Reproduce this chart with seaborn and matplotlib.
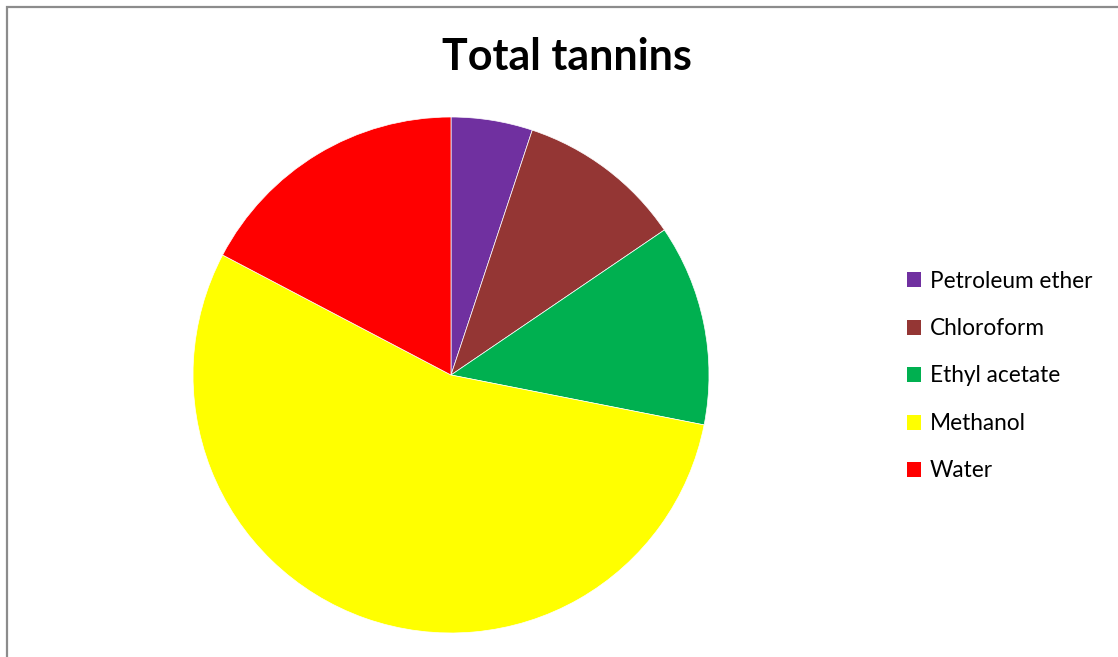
import matplotlib
matplotlib.use("Agg")
import matplotlib.pyplot as plt
import matplotlib.patches as mpatches
import seaborn as sns

categories = ["Petroleum ether", "Chloroform", "Ethyl acetate", "Methanol", "Water"]
values = [5.1, 10.4, 12.6, 54.6, 17.3]
colors = ["#7030A0", "#943634", "#00B050", "#FFFF00", "#FF0000"]
title = "Total tannins"

sns.set_theme(style="white")
plt.rcParams["font.family"] = ["Lato", "DejaVu Sans"]

W, H = 1118, 657
fig = plt.figure(figsize=(W / 100, H / 100), dpi=100)
fig.patch.set_facecolor("white")

# chart border
fig.patches.append(mpatches.Rectangle((7 / W, -0.1), 1.2, (H - 7) / H + 0.1,
                                      transform=fig.transFigure, fill=False,
                                      edgecolor="#8c8c8c", linewidth=1.6))

cx, cy, r = 451, 375, 258
ax = fig.add_axes([(cx - r) / W, (H - cy - r) / H, 2 * r / W, 2 * r / H])
wedges, _ = ax.pie(values, colors=colors, startangle=90, counterclock=False,
                   radius=1.0, wedgeprops=dict(linewidth=0.5, edgecolor="white"))
ax.set_xlim(-1, 1)
ax.set_ylim(-1, 1)
ax.set_aspect("equal")
ax.axis("off")

fig.text(567 / W, 1 - 57 / H, title, ha="center", va="center",
         fontsize=31, fontweight="bold", color="black")

handles = [mpatches.Patch(facecolor=c, edgecolor="none") for c in colors]
leg = fig.legend(handles, categories, loc="center left",
                 bbox_to_anchor=(907 / W, 1 - 376 / H),
                 frameon=False, fontsize=16.3, handlelength=0.64, handleheight=0.64,
                 handletextpad=0.38, labelspacing=1.17, borderaxespad=0, borderpad=0)
for t in leg.get_texts():
    t.set_color("black")

fig.savefig("out.png", dpi=100, facecolor="white")
